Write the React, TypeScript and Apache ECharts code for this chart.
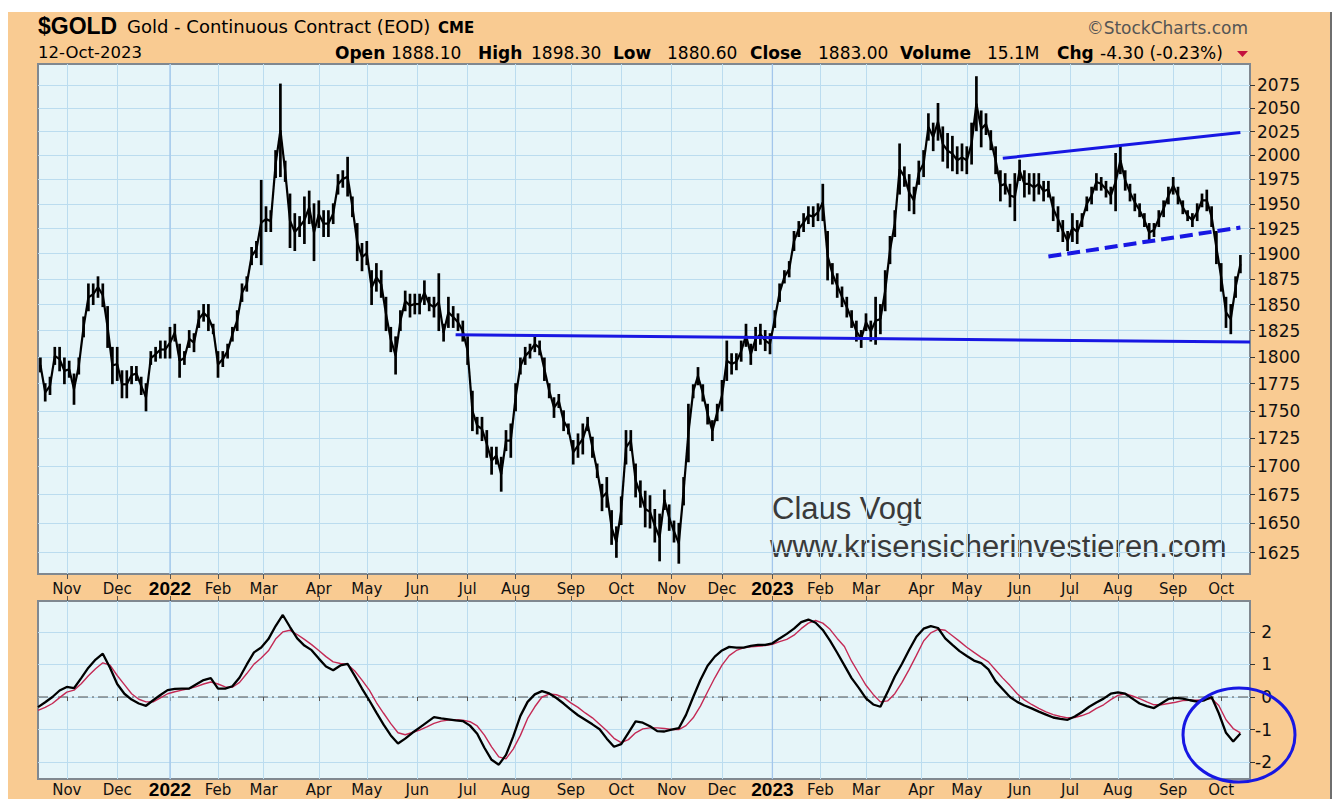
import React, { useEffect, useRef } from 'react';
import * as echarts from 'echarts';

// ---------- calendar ----------
const HOLIDAYS = [
  '2021-11-25', '2021-12-24', '2022-01-17', '2022-02-21', '2022-04-15', '2022-05-30',
  '2022-06-20', '2022-07-04', '2022-09-05', '2022-11-24', '2022-12-26', '2023-01-02',
  '2023-01-16', '2023-02-20', '2023-04-07', '2023-05-29', '2023-06-19', '2023-07-04', '2023-09-04',
];
const FIRST_DAY = '2021-10-14';
const LAST_AXIS_DAY = '2023-10-18';
const MONTHS = ['Jan', 'Feb', 'Mar', 'Apr', 'May', 'Jun', 'Jul', 'Aug', 'Sep', 'Oct', 'Nov', 'Dec'];

// ---------- price data (every 2nd trading day, starting 2021-10-15) ----------
const PRICE_HIGH = [
  1799, 1775, 1781, 1809, 1809, 1799, 1796, 1784, 1799, 1838,
  1870, 1870, 1877, 1870, 1848, 1809, 1809, 1787, 1787, 1791,
  1791, 1781, 1775, 1805, 1809, 1815, 1815, 1828, 1831, 1812,
  1805, 1825, 1822, 1844, 1850, 1850, 1831, 1805, 1805, 1812,
  1828, 1844, 1870, 1877, 1906, 1912, 1974, 1947, 1943, 2005,
  2076, 1994, 1960, 1940, 1937, 1957, 1963, 1950, 1953, 1943,
  1943, 1950, 1980, 1984, 1998, 1957, 1930, 1910, 1912, 1883,
  1890, 1883, 1857, 1828, 1819, 1844, 1863, 1860, 1860, 1860,
  1873, 1857, 1857, 1880, 1831, 1857, 1848, 1841, 1834, 1819,
  1768, 1744, 1744, 1732, 1717, 1717, 1708, 1732, 1738, 1775,
  1799, 1809, 1812, 1819, 1815, 1799, 1775, 1762, 1765, 1750,
  1738, 1723, 1729, 1738, 1744, 1726, 1702, 1684, 1690, 1661,
  1647, 1673, 1732, 1732, 1702, 1687, 1678, 1674, 1662, 1658,
  1679, 1666, 1652, 1650, 1690, 1756, 1774, 1790, 1774, 1756,
  1741, 1756, 1778, 1815, 1803, 1803, 1815, 1831, 1812, 1828,
  1831, 1825, 1822, 1844, 1870, 1883, 1892, 1922, 1932, 1940,
  1947, 1947, 1950, 1970, 1922, 1890, 1880, 1867, 1857, 1844,
  1834, 1825, 1841, 1834, 1857, 1850, 1883, 1917, 1943, 2012,
  1988, 1980, 1967, 1994, 2005, 2044, 2034, 2055, 2030, 2023,
  2020, 2009, 2012, 2009, 2034, 2084, 2047, 2044, 2026, 2009,
  1984, 1981, 1970, 1981, 1995, 1984, 1981, 1981, 1981, 1973,
  1973, 1957, 1947, 1933, 1922, 1940, 1933, 1940, 1957, 1967,
  1981, 1977, 1973, 1967, 2002, 2009, 1984, 1970, 1960, 1950,
  1940, 1930, 1930, 1943, 1953, 1967, 1977, 1967, 1953, 1943,
  1940, 1950, 1960, 1964, 1947, 1922, 1890, 1857, 1850, 1877,
  1898,
];
const PRICE_LOW = [
  1786, 1759, 1765, 1793, 1787, 1775, 1781, 1756, 1784, 1819,
  1844, 1850, 1857, 1848, 1809, 1775, 1778, 1762, 1762, 1775,
  1778, 1765, 1750, 1793, 1796, 1799, 1799, 1799, 1815, 1781,
  1793, 1809, 1805, 1828, 1834, 1825, 1822, 1781, 1791, 1799,
  1815, 1825, 1853, 1863, 1889, 1896, 1889, 1922, 1922, 1977,
  1978, 1973, 1906, 1903, 1917, 1910, 1930, 1893, 1926, 1917,
  1917, 1930, 1960, 1967, 1958, 1937, 1893, 1883, 1889, 1850,
  1863, 1857, 1825, 1805, 1784, 1825, 1844, 1838, 1841, 1841,
  1850, 1844, 1838, 1825, 1815, 1828, 1828, 1825, 1815, 1793,
  1732, 1729, 1723, 1708, 1693, 1702, 1678, 1714, 1708, 1750,
  1784, 1793, 1799, 1805, 1802, 1778, 1762, 1744, 1753, 1732,
  1729, 1702, 1708, 1711, 1732, 1708, 1690, 1661, 1664, 1632,
  1621, 1649, 1702, 1714, 1673, 1664, 1647, 1646, 1634, 1618,
  1662, 1644, 1634, 1616, 1666, 1704, 1762, 1774, 1759, 1738,
  1723, 1741, 1750, 1778, 1784, 1788, 1796, 1810, 1793, 1806,
  1812, 1806, 1803, 1828, 1853, 1871, 1877, 1903, 1917, 1922,
  1930, 1927, 1933, 1933, 1874, 1870, 1857, 1848, 1838, 1828,
  1815, 1809, 1825, 1815, 1812, 1822, 1844, 1890, 1917, 1960,
  1968, 1943, 1940, 1970, 1978, 2016, 2005, 2016, 1994, 1987,
  1984, 1981, 1984, 1981, 1991, 2026, 2009, 2022, 2006, 1981,
  1953, 1960, 1947, 1933, 1974, 1957, 1960, 1953, 1960, 1953,
  1957, 1933, 1922, 1912, 1903, 1912, 1910, 1927, 1943, 1950,
  1964, 1964, 1957, 1950, 1943, 1981, 1964, 1953, 1943, 1937,
  1927, 1912, 1917, 1927, 1937, 1950, 1960, 1950, 1940, 1933,
  1927, 1933, 1947, 1943, 1927, 1890, 1863, 1828, 1822, 1857,
  1881,
];

// ---------- momentum oscillator (every 3rd trading day) ----------
const PMO_LINE = [
  -0.31, -0.16, 0.0, 0.2, 0.31, 0.27, 0.58, 0.9, 1.15, 1.33,
  0.9, 0.4, 0.1, -0.08, -0.2, -0.27, -0.1, 0.06, 0.21, 0.25,
  0.26, 0.26, 0.39, 0.52, 0.58, 0.26, 0.26, 0.33, 0.6, 1.0,
  1.37, 1.52, 1.78, 2.18, 2.52, 2.15, 1.8, 1.58, 1.44, 1.18,
  0.94, 0.82, 0.97, 1.02, 0.65, 0.26, -0.1, -0.48, -0.85, -1.18,
  -1.43, -1.28, -1.1, -0.94, -0.78, -0.62, -0.66, -0.69, -0.72, -0.74,
  -0.88, -1.13, -1.56, -1.93, -2.08, -1.78, -1.22, -0.58, -0.15, 0.08,
  0.18, 0.11, -0.03, -0.2, -0.39, -0.56, -0.7, -0.84, -0.99, -1.28,
  -1.53, -1.45, -1.1, -0.75, -0.79, -0.9, -1.05, -1.06, -1.0, -0.96,
  -0.55, 0.0, 0.52, 0.96, 1.24, 1.43, 1.54, 1.52, 1.52, 1.57,
  1.6, 1.6, 1.65, 1.8, 1.94, 2.1, 2.3, 2.38, 2.28, 2.06,
  1.73, 1.36, 0.97, 0.58, 0.28, -0.04, -0.23, -0.3, 0.15, 0.63,
  1.02, 1.45, 1.85, 2.1, 2.18, 2.12, 1.8, 1.6, 1.41, 1.26,
  1.12, 1.04, 0.85, 0.48, 0.24, 0.0, -0.15, -0.26, -0.35, -0.45,
  -0.54, -0.63, -0.67, -0.7, -0.6, -0.46, -0.3, -0.17, -0.05, 0.1,
  0.14, 0.1, -0.05, -0.2, -0.28, -0.34, -0.2, -0.06, -0.03, -0.05,
  -0.1, -0.14, -0.1, 0.0, -0.5, -1.1, -1.37, -1.12,
];
const PMO_SIGNAL = [
  -0.41, -0.32, -0.2, -0.02, 0.15, 0.21, 0.41, 0.65, 0.87, 1.05,
  0.98, 0.66, 0.38, 0.1, -0.07, -0.15, -0.15, -0.03, 0.1, 0.16,
  0.21, 0.26, 0.32, 0.4, 0.46, 0.4, 0.31, 0.3, 0.45, 0.72,
  1.01, 1.2, 1.42, 1.78, 2.0, 2.05, 1.92, 1.77, 1.61, 1.43,
  1.24, 1.08, 1.03, 1.0, 0.8, 0.52, 0.22, -0.17, -0.5, -0.82,
  -1.1, -1.16, -1.09, -1.02, -0.92, -0.81, -0.74, -0.71, -0.7, -0.71,
  -0.76, -0.89, -1.17, -1.53, -1.84, -1.9, -1.6, -1.18, -0.66, -0.3,
  0.0, 0.09, 0.07, -0.01, -0.18, -0.32, -0.49, -0.64, -0.84, -1.04,
  -1.27, -1.4, -1.31, -1.1, -0.98, -0.95, -0.95, -0.97, -1.0, -1.0,
  -0.88, -0.64, -0.28, 0.16, 0.59, 0.98, 1.27, 1.43, 1.51, 1.54,
  1.56, 1.58, 1.62, 1.7, 1.77, 1.9, 2.1, 2.27, 2.35, 2.27,
  2.08, 1.8, 1.55, 1.1, 0.73, 0.36, 0.08, -0.15, -0.12, 0.1,
  0.45, 0.85, 1.28, 1.72, 1.97, 2.08, 2.05, 1.88, 1.71, 1.53,
  1.37, 1.22, 1.08, 0.83, 0.58, 0.35, 0.1, -0.09, -0.23, -0.35,
  -0.46, -0.54, -0.6, -0.64, -0.63, -0.57, -0.49, -0.35, -0.24, -0.08,
  0.05, 0.1, 0.03, -0.05, -0.15, -0.24, -0.24, -0.2, -0.16, -0.11,
  -0.1, -0.1, -0.08, -0.05, -0.26, -0.7, -0.97, -1.1,
];

// ---------- axes ----------
const PRICE_TICKS = [1625, 1650, 1675, 1700, 1725, 1750, 1775, 1800, 1825, 1850, 1875, 1900, 1925, 1950, 1975, 2000, 2025, 2050, 2075];
const PRICE_MIN = 1606.9;
const PRICE_MAX = 2097.9;
const PMO_TICKS = [-2, -1, 0, 1, 2];
const PMO_MIN = -2.52;
const PMO_MAX = 2.95;

// ---------- annotations ----------
const SUPPORT_LINE = [['2022-06-24', 1821], ['2023-10-18', 1814]];
const UPPER_LINE = [['2023-05-22', 1997], ['2023-10-12', 2024]];
const LOWER_LINE = [['2023-06-20', 1897], ['2023-10-12', 1926]];
const YEAR_STARTS = ['2022-01-03', '2023-01-03'];

function buildTradingDays(): string[] {
  const out: string[] = [];
  const d = new Date(FIRST_DAY + 'T00:00:00Z');
  const end = new Date(LAST_AXIS_DAY + 'T00:00:00Z').getTime();
  while (d.getTime() <= end) {
    const wd = d.getUTCDay();
    const s = d.toISOString().slice(0, 10);
    if (wd !== 0 && wd !== 6 && HOLIDAYS.indexOf(s) < 0) out.push(s);
    d.setUTCDate(d.getUTCDate() + 1);
  }
  return out;
}

const DAYS = buildTradingDays();
const monthStart = (i: number) => i > 0 && DAYS[i].slice(5, 7) !== DAYS[i - 1].slice(5, 7);
const monthLabel = (v: string) => {
  const m = parseInt(v.slice(5, 7), 10);
  return m === 1 ? '{y|' + v.slice(0, 4) + '}' : MONTHS[m - 1];
};

const priceData = PRICE_HIGH.map((h, k) => [2 * k + 1, Math.log(PRICE_LOW[k]), Math.log(h)]);

const GRID_BG = '#E6F5F9';
const GRID_LINE = '#BBDCEF';
const YEAR_LINE = '#A3C6EC';
const BLUE = '#1717E3';

function buildOption(): any {
  const labelStyle = (lh: number) => ({
    color: '#111', fontFamily: 'DejaVu Sans', fontSize: 15, lineHeight: lh,
    rich: { y: { fontFamily: 'Liberation Sans', fontWeight: 'bold', fontSize: 19, lineHeight: lh, color: '#000' } },
  });
  const tickStyle = { color: '#555', width: 1 };

  const yearSeries = (gi: number, lo: number, hi: number) =>
    YEAR_STARTS.map((d) => ({
      type: 'line', xAxisIndex: gi === 0 ? 0 : 1, yAxisIndex: gi, silent: true, z: 1,
      symbol: 'none', data: [[d, lo], [d, hi]],
      lineStyle: { color: YEAR_LINE, width: 1.3 },
    }));

  const trend = (pts: any[], width: number, type: any) => ({
    type: 'line', xAxisIndex: 0, yAxisIndex: 0, silent: true, z: 6, symbol: 'none',
    data: pts.map(([d, p]) => [d, Math.log(p)]),
    lineStyle: { color: BLUE, width, type },
  });

  const header: any[] = [];
  const addText = (text: string, x: number, y: number, font: string, fill = '#000', align = 'left') =>
    header.push({ type: 'text', x, y, silent: true, style: { text, font, fill, align, verticalAlign: 'middle' } });

  addText('$GOLD', 38, 26, 'bold 23px "Liberation Sans"');
  addText('Gold - Continuous Contract (EOD)', 127, 26.5, '18px "DejaVu Sans"');
  addText('CME', 438, 28, 'bold 15px "DejaVu Sans"');
  addText('\u00A9StockCharts.com', 1248, 27.5, '17px "DejaVu Sans"', '#555', 'right');
  addText('12-Oct-2023', 38, 52.5, '16.5px "DejaVu Sans"');
  const B = 'bold 17px "DejaVu Sans"';
  const N = '17px "DejaVu Sans"';
  addText('Open', 335, 53, B); addText('1888.10', 391, 53, N);
  addText('High', 478, 53, B); addText('1898.30', 531, 53, N);
  addText('Low', 613, 53, B); addText('1880.60', 667, 53, N);
  addText('Close', 750, 53, B); addText('1883.00', 818, 53, N);
  addText('Volume', 900, 53, B); addText('15.1M', 987, 53, N);
  addText('Chg', 1057, 53, B); addText('-4.30 (-0.23%)', 1100, 53, N);
  header.push({ type: 'polygon', silent: true, shape: { points: [[1237, 51], [1248, 51], [1242.5, 57]] }, style: { fill: '#C4123E' } });
  addText('Claus Vogt', 772, 508.5, '31px "Liberation Sans"', '#3a3a3a');
  addText('www.krisensicherinvestieren.com', 770, 546.5, '31px "Liberation Sans"', '#3a3a3a');
  header.push({
    type: 'ellipse', silent: true, z: 100,
    shape: { cx: 1239, cy: 735, rx: 56, ry: 47 },
    style: { fill: 'transparent', stroke: BLUE, lineWidth: 3 },
  });

  return {
    animation: false,
    backgroundColor: 'transparent',
    textStyle: { fontFamily: 'DejaVu Sans' },
    grid: [
      { left: 38, top: 64, width: 1212, height: 510, show: true, backgroundColor: GRID_BG, borderColor: '#808890', borderWidth: 2, outerBoundsMode: 'none', containLabel: false },
      { left: 38, top: 601, width: 1212, height: 178, show: true, backgroundColor: GRID_BG, borderColor: '#808890', borderWidth: 2, outerBoundsMode: 'none', containLabel: false },
    ],
    xAxis: [
      {
        type: 'category', gridIndex: 0, data: DAYS, boundaryGap: false,
        axisLine: { show: false },
        axisTick: { show: true, interval: monthStart, length: 5, lineStyle: tickStyle },
        axisLabel: { show: true, interval: monthStart, formatter: monthLabel, margin: 6, ...labelStyle(17) },
        splitLine: { show: true, interval: monthStart, lineStyle: { color: GRID_LINE, width: 1 } },
      },
      {
        type: 'category', gridIndex: 1, data: DAYS, boundaryGap: false, position: 'bottom',
        axisLine: { show: false },
        axisTick: { show: true, interval: monthStart, length: 4, lineStyle: tickStyle },
        axisLabel: { show: true, interval: monthStart, formatter: monthLabel, margin: 3, ...labelStyle(15) },
        splitLine: { show: true, interval: monthStart, lineStyle: { color: GRID_LINE, width: 1 } },
      },
      {
        type: 'category', gridIndex: 1, data: DAYS, boundaryGap: false, position: 'top',
        axisLine: { show: false },
        axisTick: { show: true, interval: monthStart, length: 5, lineStyle: tickStyle },
        axisLabel: { show: false },
        splitLine: { show: false },
      },
    ],
    yAxis: [
      {
        type: 'value', gridIndex: 0, position: 'right',
        min: Math.log(PRICE_MIN), max: Math.log(PRICE_MAX),
        axisLine: { show: false },
        axisTick: { show: true, customValues: PRICE_TICKS.map(Math.log), length: 5, lineStyle: { color: '#333' } },
        axisLabel: {
          show: true, customValues: PRICE_TICKS.map(Math.log), margin: 7,
          formatter: (v: number) => String(Math.round(Math.exp(v))),
          color: '#111', fontFamily: 'DejaVu Sans', fontSize: 17,
        },
        splitLine: { show: true, lineStyle: { color: GRID_LINE, width: 1 } },
      },
      {
        type: 'value', gridIndex: 1, position: 'right', min: PMO_MIN, max: PMO_MAX,
        axisLine: { show: false },
        axisTick: { show: true, customValues: PMO_TICKS, length: 5, lineStyle: { color: '#333' } },
        axisLabel: {
          show: true, customValues: PMO_TICKS, align: 'right', margin: 22,
          formatter: (v: number) => String(v),
          color: '#111', fontFamily: 'DejaVu Sans', fontSize: 17,
        },
        splitLine: { show: true, lineStyle: { color: GRID_LINE, width: 1 } },
      },
    ],
    series: [
      ...yearSeries(0, Math.log(PRICE_MIN), Math.log(PRICE_MAX)),
      ...yearSeries(1, PMO_MIN, PMO_MAX),
      {
        type: 'custom', name: '$GOLD', xAxisIndex: 0, yAxisIndex: 0, silent: true, z: 4,
        data: priceData, encode: { x: 0, y: [1, 2] },
        renderItem: (params: any, api: any) => {
          const k = params.dataIndex;
          const c = api.value(0);
          const lo = api.value(1);
          const hi = api.value(2);
          const pLo = api.coord([c, lo]);
          const pHi = api.coord([c, hi]);
          const children: any[] = [{
            type: 'line', shape: { x1: pLo[0], y1: pLo[1] + 0.5, x2: pHi[0], y2: pHi[1] - 0.5 },
            style: { stroke: '#000', lineWidth: 2.7 },
          }];
          if (k + 1 < priceData.length) {
            const n = priceData[k + 1];
            const a = api.coord([c, (lo + hi) / 2]);
            const b = api.coord([n[0], (n[1] + n[2]) / 2]);
            children.push({ type: 'line', shape: { x1: a[0], y1: a[1], x2: b[0], y2: b[1] }, style: { stroke: '#000', lineWidth: 2.2 } });
          }
          return { type: 'group', children };
        },
      },
      trend(SUPPORT_LINE, 3, 'solid'),
      trend(UPPER_LINE, 3, 'solid'),
      trend(LOWER_LINE, 4, [13, 6]),
      {
        type: 'line', name: 'zero', xAxisIndex: 1, yAxisIndex: 1, silent: true, z: 2, symbol: 'none',
        data: [[0, 0], [DAYS.length - 1, 0]],
        lineStyle: { color: '#555', width: 1, type: [10, 4, 2, 4] },
      },
      {
        type: 'line', name: 'Signal', xAxisIndex: 1, yAxisIndex: 1, silent: true, z: 3, symbol: 'none',
        data: PMO_SIGNAL.map((v, j) => [3 * j, v]),
        lineStyle: { color: '#C42A55', width: 1.4 },
      },
      {
        type: 'line', name: 'PMO', xAxisIndex: 1, yAxisIndex: 1, silent: true, z: 4, symbol: 'none',
        data: PMO_LINE.map((v, j) => [3 * j, v]),
        lineStyle: { color: '#000', width: 2.3 },
      },
    ],
    graphic: header,
  };
}

export default function App() {
  const ref = useRef<HTMLDivElement>(null);
  useEffect(() => {
    document.body.style.margin = '0';
    const chart = echarts.init(ref.current as HTMLDivElement, undefined, { renderer: 'svg' });
    chart.setOption(buildOption());
    return () => chart.dispose();
  }, []);
  return (
    <div style={{ position: 'relative', width: 1333, height: 799, background: '#ffffff', overflow: 'hidden' }}>
      <div style={{ position: 'absolute', left: 8, top: 12, width: 1322, height: 787, background: '#F9CB92', borderRight: '2px solid #6e6e6e' }} />
      <div ref={ref} style={{ position: 'absolute', left: 0, top: 0, width: 1333, height: 799 }} />
    </div>
  );
}
